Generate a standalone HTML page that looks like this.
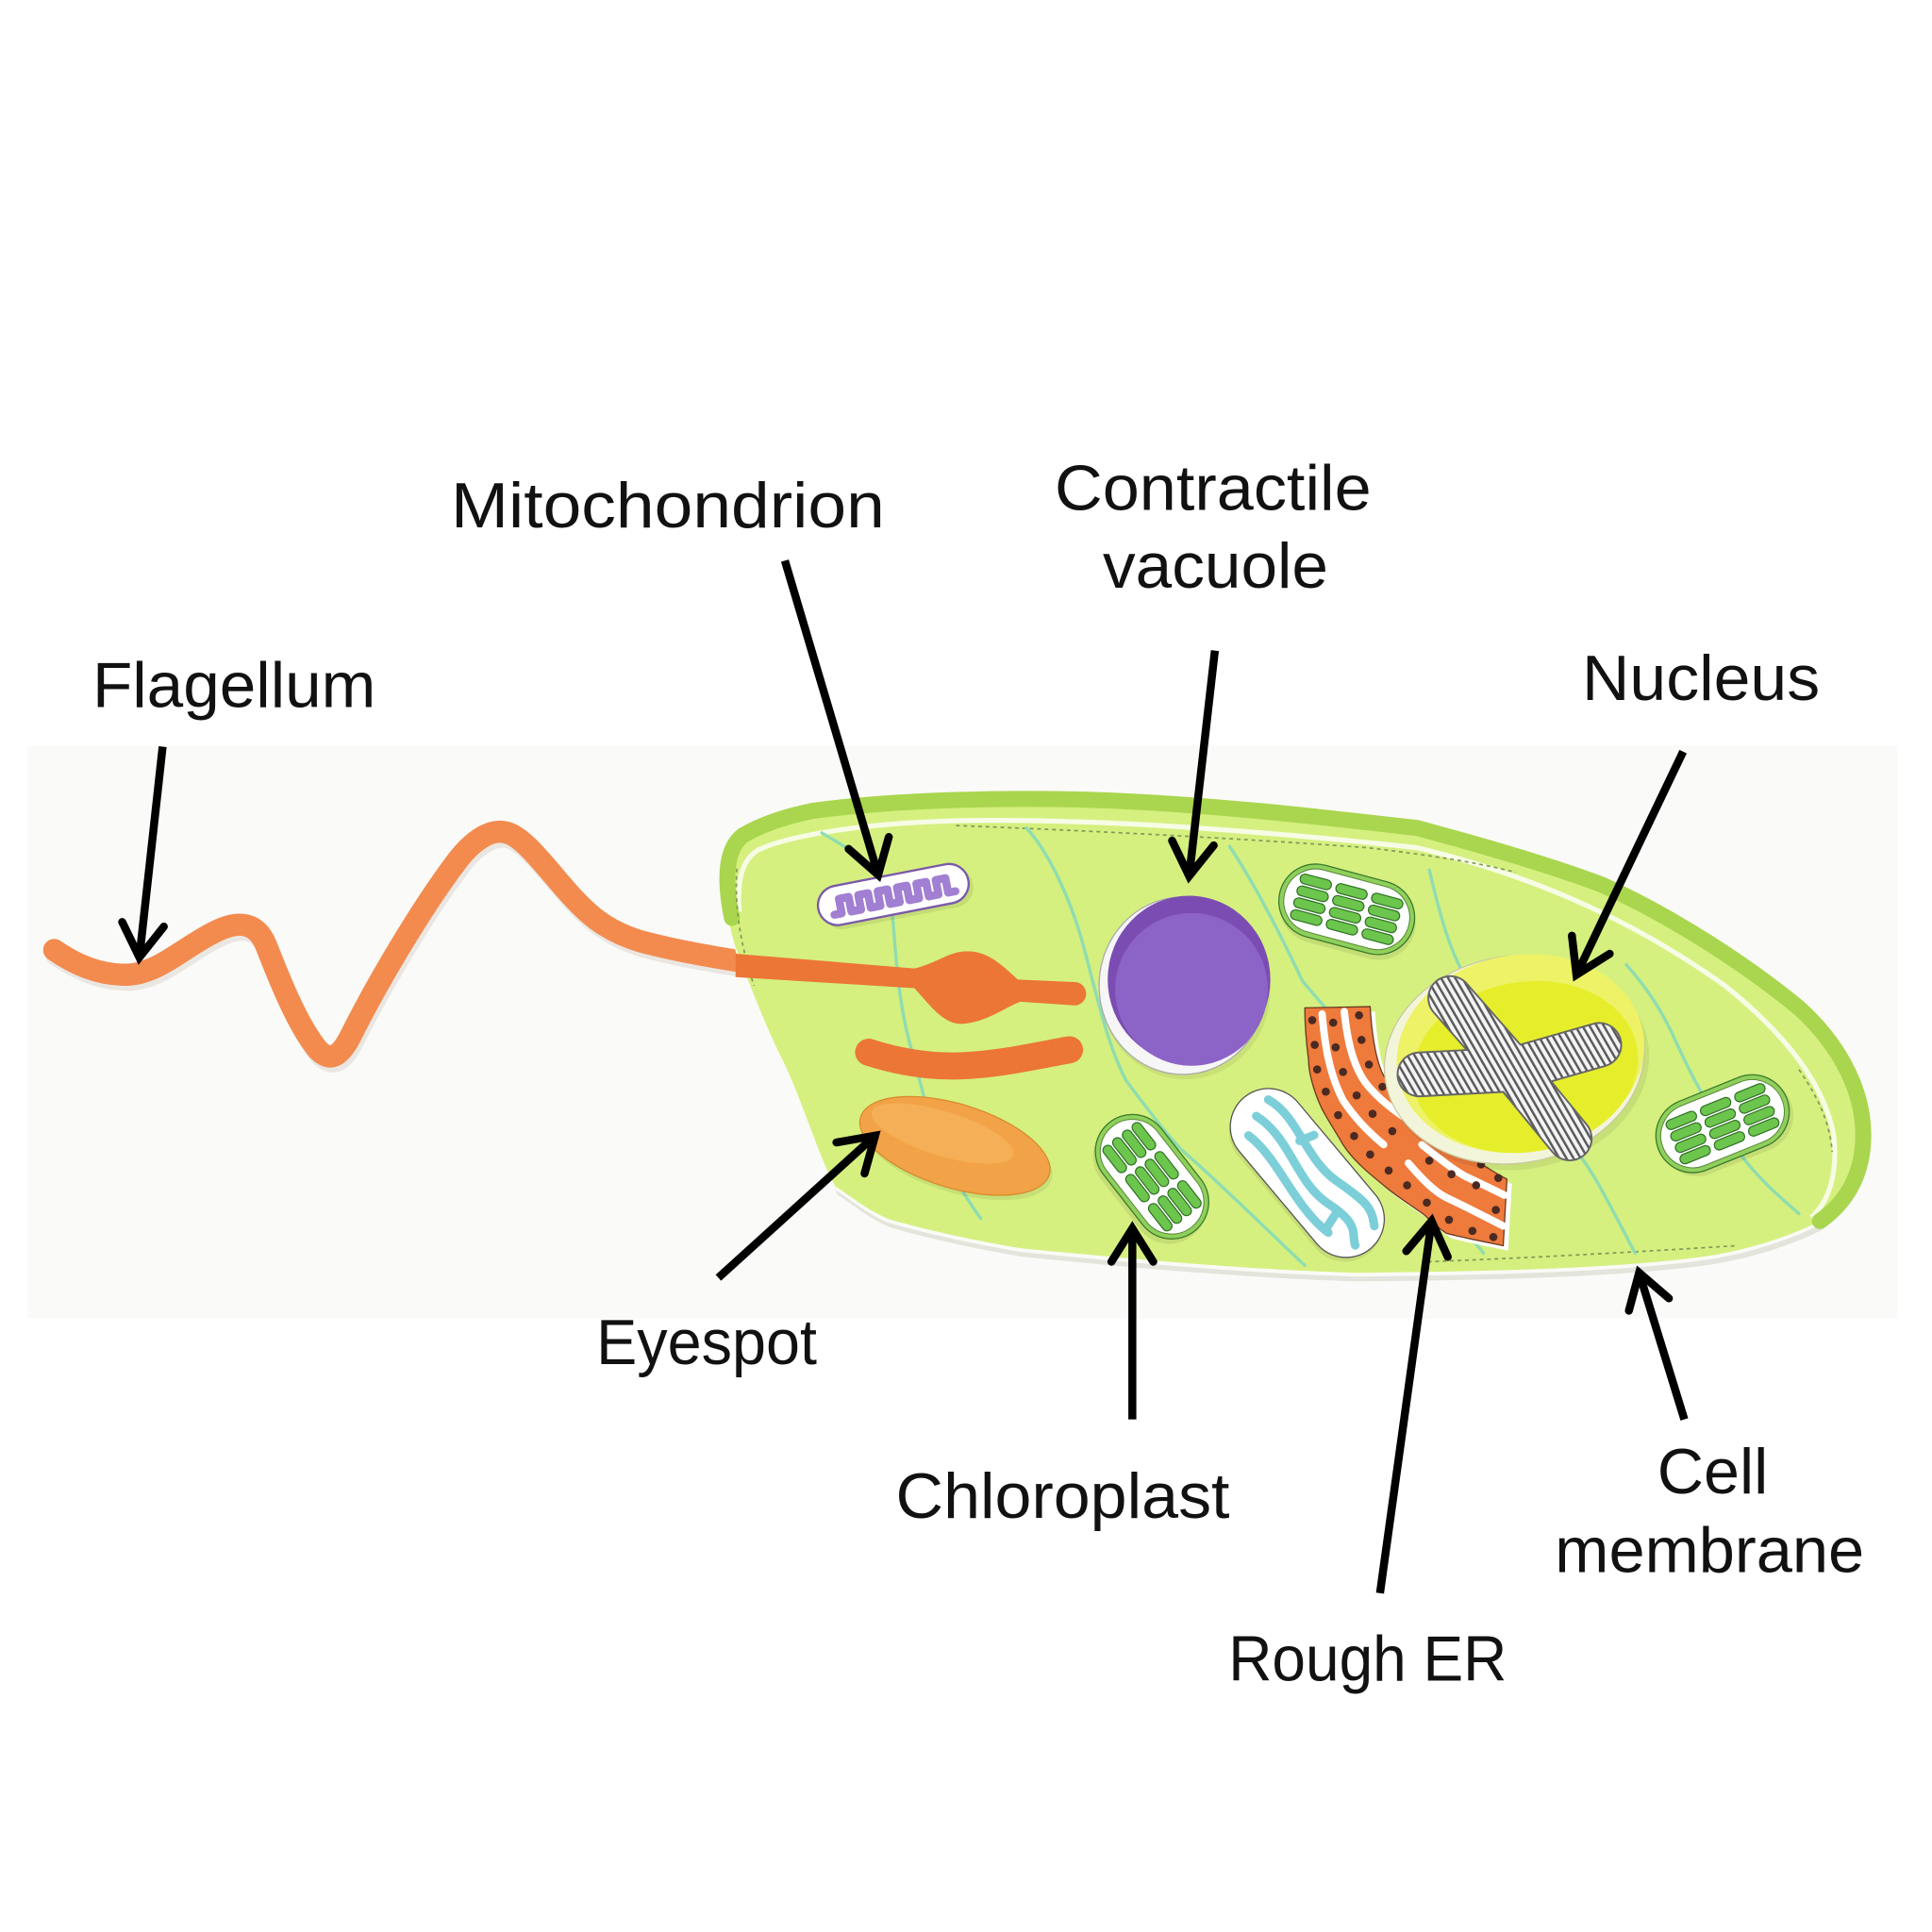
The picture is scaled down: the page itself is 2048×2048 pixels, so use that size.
<!DOCTYPE html>
<html><head><meta charset="utf-8"><style>
html,body{margin:0;padding:0;background:#fff;}
svg{display:block;}
text{font-family:"Liberation Sans",Arial,sans-serif;fill:#111;font-size:52px;}
</style></head><body>
<svg width="2048" height="2048" viewBox="0 0 1568 1568" xmlns="http://www.w3.org/2000/svg">
<defs>
<marker id="ah" markerUnits="userSpaceOnUse" markerWidth="70" markerHeight="70" viewBox="-35 -35 70 70" refX="0" refY="0" orient="auto" overflow="visible">
<path d="M-28,-17 L-1,0 L-28,17" fill="none" stroke="#000" stroke-width="6.5" stroke-linecap="round" stroke-linejoin="miter"/>
</marker>
<pattern id="stripe" width="5" height="5" patternUnits="userSpaceOnUse" patternTransform="rotate(-30)">
<rect width="5" height="5" fill="#f4f4f4"/><rect width="1.9" height="5" fill="#5a5a5a"/>
</pattern>
<g id="chl">
<rect x="-54" y="-26" width="112" height="60" rx="30" fill="#000" opacity="0.08"/>
<rect x="-56" y="-30" width="112" height="60" rx="30" fill="#8fd05c" stroke="#3d7a2a" stroke-width="1"/>
<rect x="-52" y="-26" width="104" height="52" rx="26" fill="#fff" stroke="#5a8a3a" stroke-width="0.8"/>
<g fill="#6cc54c" stroke="#2f6f24" stroke-width="0.9">
<rect x="-43" y="-19" width="26" height="8" rx="4"/><rect x="-43" y="-9" width="26" height="8" rx="4"/><rect x="-43" y="1" width="26" height="8" rx="4"/><rect x="-43" y="11" width="26" height="8" rx="4"/>
<rect x="-13" y="-19" width="26" height="8" rx="4"/><rect x="-13" y="-9" width="26" height="8" rx="4"/><rect x="-13" y="1" width="26" height="8" rx="4"/><rect x="-13" y="11" width="26" height="8" rx="4"/>
<rect x="17" y="-19" width="26" height="8" rx="4"/><rect x="17" y="-9" width="26" height="8" rx="4"/><rect x="17" y="1" width="26" height="8" rx="4"/><rect x="17" y="11" width="26" height="8" rx="4"/>
</g>
</g>
</defs>

<rect x="0" y="0" width="1568" height="1568" fill="#fff"/>
<rect x="22" y="605" width="1518" height="465" fill="#fafaf8"/>

<!-- flagellum outside -->
<path d="M44,771 C60,782 80,792 105,791 C130,789 150,768 175,756 C195,746 208,750 215,765 C225,790 240,830 258,852 C268,862 276,858 285,840 C305,800 340,740 370,700 C385,680 400,672 412,676 C425,680 440,700 460,723 C475,740 490,755 520,764 C550,772 580,777 612,782" fill="none" stroke="#d9d4cc" stroke-width="18" stroke-linecap="round" opacity="0.5" transform="translate(2,4)"/>
<path d="M44,771 C60,782 80,792 105,791 C130,789 150,768 175,756 C195,746 208,750 215,765 C225,790 240,830 258,852 C268,862 276,858 285,840 C305,800 340,740 370,700 C385,680 400,672 412,676 C425,680 440,700 460,723 C475,740 490,755 520,764 C550,772 580,777 612,782" fill="none" stroke="#f38b4f" stroke-width="18" stroke-linecap="round"/>

<!-- cell shadow / underside -->
<path d="M603,680 C620,668 640,662 660,658 C720,650 800,647 880,649 C980,652 1080,664 1150,672 C1210,688 1260,703 1300,718 C1360,745 1420,785 1460,818 C1490,845 1510,880 1512,915 C1514,950 1500,975 1477,991 C1450,1005 1410,1017 1374,1021 C1300,1030 1200,1032 1100,1033 C1000,1030 900,1020 828,1013 C780,1005 740,995 720,989 C700,980 690,970 678,963 C665,940 650,890 635,860 C620,830 605,790 597,769 C590,745 586,720 586,699 C587,690 595,684 603,680 Z" fill="#e3e5dc" transform="translate(2,7)"/>
<path d="M603,680 C620,668 640,662 660,658 C720,650 800,647 880,649 C980,652 1080,664 1150,672 C1210,688 1260,703 1300,718 C1360,745 1420,785 1460,818 C1490,845 1510,880 1512,915 C1514,950 1500,975 1477,991 C1450,1005 1410,1017 1374,1021 C1300,1030 1200,1032 1100,1033 C1000,1030 900,1020 828,1013 C780,1005 740,995 720,989 C700,980 690,970 678,963 C665,940 650,890 635,860 C620,830 605,790 597,769 C590,745 586,720 586,699 C587,690 595,684 603,680 Z" fill="#fafaf6" transform="translate(0,3)"/>
<!-- panel -->
<path d="M603,680 C620,668 640,662 660,658 C720,650 800,647 880,649 C980,652 1080,664 1150,672 C1210,688 1260,703 1300,718 C1360,745 1420,785 1460,818 C1490,845 1510,880 1512,915 C1514,950 1500,975 1477,991 C1450,1005 1410,1017 1374,1021 C1300,1030 1200,1032 1100,1033 C1000,1030 900,1020 828,1013 C780,1005 740,995 720,989 C700,980 690,970 678,963 C665,940 650,890 635,860 C620,830 605,790 597,769 C590,745 586,720 586,699 C587,690 595,684 603,680 Z" fill="#d5f07f"/>
<!-- inner white edge of rim -->
<path d="M600,740 C598,715 602,698 615,690 C640,678 700,668 780,666 C900,664 1040,676 1150,688 C1250,712 1330,750 1400,800 C1450,840 1480,880 1488,920 C1492,950 1485,975 1470,988" fill="none" stroke="#ffffff" stroke-width="4" opacity="0.8"/>
<!-- rim -->
<path d="M594,745 C587,710 590,688 603,678 C620,668 640,662 660,658 C720,650 800,647 880,649 C980,652 1080,664 1150,672 C1210,688 1260,703 1300,718 C1360,745 1420,785 1460,818 C1490,845 1510,880 1512,915 C1514,950 1500,975 1477,991" fill="none" stroke="#a9d64e" stroke-width="13" stroke-linecap="round"/>
<!-- dashed fold lines -->
<g fill="none" stroke="#7f9a58" stroke-width="1.3" stroke-dasharray="3,3">
<path d="M776,670 C880,674 1000,680 1110,688 C1160,694 1200,700 1230,708"/>
<path d="M1460,868 C1475,890 1485,910 1487,935"/>
<path d="M1159,1024 C1240,1021 1330,1016 1409,1011"/>
<path d="M598,705 C596,740 602,770 612,800"/>
</g>
<!-- faint lines -->
<g fill="none" stroke="#8fdcb0" stroke-width="2.6" stroke-linecap="round">
<path d="M667,676 C700,695 722,710 725,750 C728,790 730,820 742,860 C750,890 760,940 796,989"/>
<path d="M833,672 C850,690 870,730 881,774 C893,820 900,850 914,877 C935,905 950,925 962,936 C990,960 1030,1000 1059,1027"/>
<path d="M998,687 C1020,720 1040,760 1057,796 C1070,812 1085,828 1095,840"/>
<path d="M1160,706 C1168,740 1175,765 1185,785"/>
<path d="M1170,979 C1182,992 1195,1005 1204,1017"/>
<path d="M1280,935 C1292,950 1300,965 1327,1017"/>
<path d="M1320,783 C1335,800 1348,818 1360,845 C1374,876 1390,905 1409,932 C1425,955 1445,972 1460,985"/>
</g>

<!-- inside flagellum band with basal swelling -->
<path d="M597,774 L742,786 C760,782 770,772 785,772 C800,772 810,780 826,795 L872,797 A9.5,9.5 0 0 1 872,816 L828,813 C815,818 800,830 780,831 C764,831 752,812 742,802 L597,793 Z" fill="#ec7636"/>
<path d="M705,854 C730,862 755,866 780,865 C810,864 840,857 868,852" fill="none" stroke="#ec7636" stroke-width="22" stroke-linecap="round"/>

<!-- eyespot -->
<ellipse cx="777" cy="934" rx="80" ry="34" transform="rotate(17 777 934)" fill="#000" opacity="0.07"/>
<ellipse cx="775" cy="930" rx="80" ry="34" transform="rotate(17 775 930)" fill="#f2a347" stroke="#d98a2e" stroke-width="1"/>
<ellipse cx="765" cy="920" rx="60" ry="18" transform="rotate(17 765 920)" fill="#f6b762" opacity="0.6"/>

<!-- mitochondrion -->
<g transform="translate(725,726) rotate(-11)">
<rect x="-59" y="-13" width="124" height="33" rx="16" fill="#000" opacity="0.08"/>
<rect x="-62" y="-16" width="124" height="32" rx="16" fill="#fff" stroke="#7b5aa8" stroke-width="1.8"/>
<path d="M-50,7 L-44,7 L-44,-5 L-36,-5 L-36,7 L-28,7 L-28,-5 L-20,-5 L-20,7 L-12,7 L-12,-5 L-4,-5 L-4,7 L4,7 L4,-5 L12,-5 L12,7 L20,7 L20,-5 L28,-5 L28,7 L36,7 L36,-5 L44,-5 L44,7 L50,7" fill="none" stroke="#a17fd2" stroke-width="6.5" stroke-linejoin="round" stroke-linecap="round"/>
</g>

<!-- contractile vacuole -->
<ellipse cx="962" cy="804" rx="69" ry="72" fill="#000" opacity="0.06"/>
<ellipse cx="960" cy="800" rx="68" ry="72" fill="#f6f6f6" stroke="#aaa" stroke-width="1"/>
<ellipse cx="965" cy="795" rx="66" ry="68" fill="#7b4db2"/>
<ellipse cx="967" cy="803" rx="62" ry="62" fill="#8c63c6"/>

<!-- chloroplasts -->
<use href="#chl" transform="translate(1093,738) rotate(15)"/>
<use href="#chl" transform="translate(1398,912) rotate(-22)"/>
<use href="#chl" transform="translate(935,955) rotate(52)"/>

<!-- cyan organelle -->
<g transform="translate(1061,952) rotate(50)">
<rect x="-78" y="-28" width="160" height="62" rx="31" fill="#000" opacity="0.08"/>
<rect x="-80" y="-31" width="160" height="62" rx="31" fill="#fff" stroke="#555" stroke-width="1"/>
<g fill="none" stroke="#7ccfd9" stroke-width="7" stroke-linecap="round">
<path d="M-66,-14 C-40,-24 -10,-6 20,-14 S55,-22 68,-14"/>
<path d="M-62,2 C-30,-8 0,12 30,3 S60,4 70,8"/>
<path d="M-54,17 C-25,10 15,26 48,18"/>
<path d="M-20,-24 L-24,-12"/>
<path d="M40,3 L44,16"/>
</g>
</g>

<!-- rough ER -->
<path d="M1059,818 L1112,817 C1113,835 1116,860 1123,873 C1130,885 1145,903 1164,916 C1180,928 1200,945 1223,957 L1220,1011 C1205,1008 1185,1004 1174,1001 C1165,995 1160,990 1156,986 C1145,978 1132,970 1123,962 C1108,950 1097,940 1090,929 C1082,915 1075,905 1072,898 C1066,885 1062,870 1062,860 C1060,845 1059,830 1059,818 Z" fill="#fff" transform="translate(4,4)"/>
<path d="M1059,818 L1112,817 C1113,835 1116,860 1123,873 C1130,885 1145,903 1164,916 C1180,928 1200,945 1223,957 L1220,1011 C1205,1008 1185,1004 1174,1001 C1165,995 1160,990 1156,986 C1145,978 1132,970 1123,962 C1108,950 1097,940 1090,929 C1082,915 1075,905 1072,898 C1066,885 1062,870 1062,860 C1060,845 1059,830 1059,818 Z" fill="#ee7a3c" stroke="#6a3a20" stroke-width="1"/>
<g fill="none" stroke="#fff" stroke-width="6" stroke-linecap="round">
<path d="M1073,823 C1075,845 1078,870 1090,893 C1100,908 1112,920 1123,929"/>
<path d="M1091,821 C1093,840 1097,865 1110,881 C1120,893 1135,904 1146,911"/>
<path d="M1143,944 C1155,958 1165,968 1176,973 C1195,982 1210,990 1220,995"/>
<path d="M1154,929 C1170,942 1185,953 1192,956 C1205,962 1215,967 1221,970"/>
</g>
<g fill="#4a2a22">
<circle cx="1065" cy="828" r="3.3"/><circle cx="1067" cy="848" r="3.3"/><circle cx="1069" cy="868" r="3.3"/><circle cx="1076" cy="886" r="3.3"/><circle cx="1086" cy="905" r="3.3"/><circle cx="1099" cy="922" r="3.3"/><circle cx="1112" cy="937" r="3.3"/><circle cx="1127" cy="950" r="3.3"/><circle cx="1142" cy="962" r="3.3"/><circle cx="1158" cy="976" r="3.3"/><circle cx="1176" cy="990" r="3.3"/><circle cx="1195" cy="999" r="3.3"/><circle cx="1212" cy="1004" r="3.3"/>
<circle cx="1082" cy="830" r="3.3"/><circle cx="1084" cy="850" r="3.3"/><circle cx="1090" cy="870" r="3.3"/><circle cx="1101" cy="889" r="3.3"/><circle cx="1114" cy="904" r="3.3"/><circle cx="1130" cy="918" r="3.3"/>
<circle cx="1103" cy="824" r="3.3"/><circle cx="1105" cy="844" r="3.3"/><circle cx="1111" cy="864" r="3.3"/><circle cx="1122" cy="882" r="3.3"/><circle cx="1137" cy="896" r="3.3"/><circle cx="1153" cy="909" r="3.3"/><circle cx="1169" cy="922" r="3.3"/><circle cx="1186" cy="934" r="3.3"/><circle cx="1202" cy="945" r="3.3"/><circle cx="1216" cy="956" r="3.3"/>
<circle cx="1160" cy="942" r="3.3"/><circle cx="1178" cy="953" r="3.3"/><circle cx="1198" cy="962" r="3.3"/><circle cx="1214" cy="982" r="3.3"/>
</g>

<!-- nucleus -->
<ellipse cx="1232" cy="864" rx="107" ry="85" transform="rotate(-10 1232 864)" fill="#000" opacity="0.07"/>
<ellipse cx="1229" cy="860" rx="106" ry="84" transform="rotate(-10 1229 860)" fill="#f3f5da" stroke="#c9c9a0" stroke-width="1"/>
<ellipse cx="1234" cy="855" rx="101" ry="80" transform="rotate(-10 1234 855)" fill="#eef266"/>
<ellipse cx="1238" cy="866" rx="92" ry="69" transform="rotate(-10 1238 866)" fill="#e6ee2c"/>
<g fill="none" stroke-linecap="round">
<g stroke="#666" stroke-width="37">
<path d="M1177,810 L1228,868"/><path d="M1298,848 L1228,868"/><path d="M1152,872 L1228,868"/><path d="M1274,924 L1228,868"/>
</g>
<g stroke="url(#stripe)" stroke-width="34">
<path d="M1177,810 L1228,868"/><path d="M1298,848 L1228,868"/><path d="M1152,872 L1228,868"/><path d="M1274,924 L1228,868"/>
</g>
</g>

<!-- arrows -->
<g stroke="#000" stroke-width="6.5" fill="none" marker-end="url(#ah)">
<line x1="132" y1="606" x2="113" y2="778"/>
<line x1="637" y1="455" x2="713" y2="711"/>
<line x1="986" y1="528" x2="965" y2="712"/>
<line x1="1366" y1="610" x2="1279" y2="792"/>
<line x1="583" y1="1037" x2="711" y2="921"/>
<line x1="919" y1="1152" x2="919" y2="996"/>
<line x1="1120" y1="1293" x2="1162" y2="990"/>
<line x1="1367" y1="1152" x2="1330" y2="1032"/>
</g>

<!-- labels -->
<text x="75" y="574" textLength="230" lengthAdjust="spacingAndGlyphs">Flagellum</text>
<text x="366" y="428" textLength="352" lengthAdjust="spacingAndGlyphs">Mitochondrion</text>
<text x="856" y="414" textLength="257" lengthAdjust="spacingAndGlyphs">Contractile</text>
<text x="895" y="477" textLength="183" lengthAdjust="spacingAndGlyphs">vacuole</text>
<text x="1284" y="568" textLength="193" lengthAdjust="spacingAndGlyphs">Nucleus</text>
<text x="484" y="1107" textLength="179" lengthAdjust="spacingAndGlyphs">Eyespot</text>
<text x="727" y="1232" textLength="271" lengthAdjust="spacingAndGlyphs">Chloroplast</text>
<text x="1345" y="1212" textLength="90" lengthAdjust="spacingAndGlyphs">Cell</text>
<text x="1262" y="1276" textLength="251" lengthAdjust="spacingAndGlyphs">membrane</text>
<text x="997" y="1364" textLength="226" lengthAdjust="spacingAndGlyphs">Rough ER</text>
</svg>
</body></html>
